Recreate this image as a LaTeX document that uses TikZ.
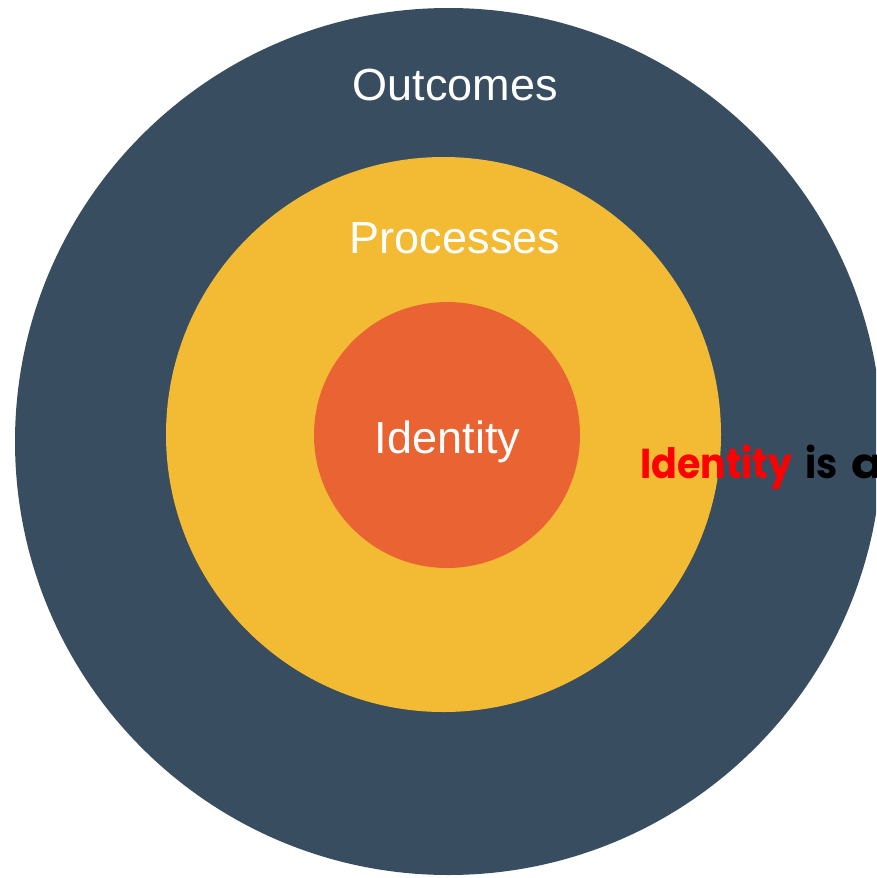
\documentclass[tikz,border=0pt]{standalone}
\usepackage{fontspec}
\setmainfont{Liberation Sans}
\newfontfamily\geofont{Poppins}
\definecolor{outerblue}{HTML}{394D60}
\definecolor{midyellow}{HTML}{F2BB33}
\definecolor{coreorange}{HTML}{EA6433}
\definecolor{pureRed}{HTML}{FF0000}
\begin{document}
\begin{tikzpicture}[x=1pt,y=-1pt,
  ring/.style={circle,inner sep=0pt,minimum size=#1},
  ringlabel/.style={text=white,font=\fontsize{45}{52}\selectfont,anchor=base,inner sep=0pt}]
  \useasboundingbox (0,0) rectangle (876,878);
  \clip (0,0) rectangle (876,878);
  % concentric discs
  \node[ring=867pt,fill=outerblue] (outer) at (448.5,441.5) {};
  \node[ring=555pt,fill=midyellow] (middle) at (443.5,434.5) {};
  \node[ring=266pt,fill=coreorange] (core) at (447,435) {};
  % labels
  \node[ringlabel] (lblout) at (455,100) {Outcomes};
  \node[ringlabel] (lblproc) at (455,253) {Processes};
  \node[ringlabel] (lblid) at (447.5,453) {Identity};
  % caption running off the right edge
  \node[anchor=base west,inner sep=0pt,font=\geofont\bfseries\fontsize{38}{46}\selectfont] (caption) at (640,478)
    {\scalebox{1}[1.1]{\textcolor{pureRed}{Identity}\hspace{13pt}is\hspace{14pt}\scalebox{1.25}[1]{a}}};
\end{tikzpicture}
\end{document}
